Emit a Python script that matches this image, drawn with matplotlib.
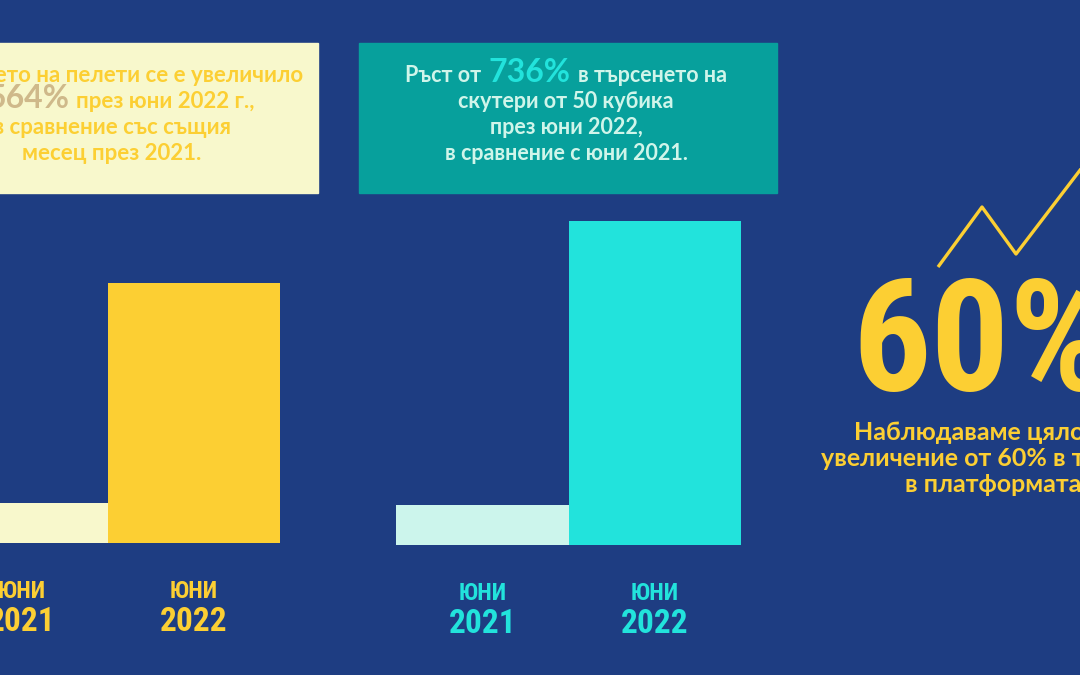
import matplotlib
matplotlib.use('Agg')
import matplotlib.pyplot as plt
from matplotlib.patches import Rectangle
from matplotlib import transforms, font_manager

W, H = 1080, 675

# --- data ---
years = ['2021', '2022']
month = 'ЮНИ'
pellets = [1.0, 6.5]     # relative search volume, June 2021 = 1
scooters = [1.0, 8.1]
pellets_growth = '564%'
scooters_growth = '736%'
total_growth = '60%'
# decorative trend zigzag (pixel coords of the original artwork)
trend_x = [938, 982, 1016, 1100]
trend_y = [267, 207, 254, 144]

# colours
BG = '#1e3d82'
YELLOW = '#fccf33'
CREAM = '#f8f8cc'
TEAL = '#07a09c'
CYAN = '#22e3dc'
MINT = '#ccf5ec'
TAN = '#cfb98a'
MINT_TXT = '#d0f5ea'

installed = {f.name for f in font_manager.fontManager.ttflist}
body = ['Lato', 'Noto Sans', 'DejaVu Sans']
narrow = [f for f in ['Roboto Condensed', 'Liberation Sans Narrow',
                      'Open Sans Condensed', 'DejaVu Sans'] if f in installed]
narrow.append('DejaVu Sans')

fig = plt.figure(figsize=(10.8, 6.75), dpi=100, facecolor=BG)

# background axes in pixel units, y pointing down
bg = fig.add_axes([0, 0, 1, 1])
bg.set_xlim(0, W)
bg.set_ylim(H, 0)
bg.axis('off')
bg.set_facecolor(BG)

# text boxes
bg.add_patch(Rectangle((-10, 43), 328, 150, color=CREAM, zorder=1))
bg.add_patch(Rectangle((359, 43), 418, 150, color=TEAL, zorder=1))

renderer = fig.canvas.get_renderer()


def mixed_line(xc, y, parts, gap):
    objs = []
    for s, c, fs in parts:
        objs.append(bg.text(0, y, s, color=c, fontsize=fs, family=body,
                            fontweight='bold', va='baseline', ha='left', zorder=3))
    widths = [o.get_window_extent(renderer).width for o in objs]
    total = sum(widths) + gap * (len(objs) - 1)
    x = xc - total / 2
    for o, w in zip(objs, widths):
        o.set_x(x)
        x += w + gap


def line(xc, y, s, c, fs):
    bg.text(xc, y, s, color=c, fontsize=fs, family=body, fontweight='bold',
            ha='center', va='baseline', zorder=3)


# left box text
lx = 112
line(lx, 82, 'Търсенето на пелети се е увеличило', YELLOW, 16)
mixed_line(lx, 108, [('с', YELLOW, 16), (pellets_growth, TAN, 23),
                     ('през юни 2022 г.,', YELLOW, 16)], 7)
line(lx, 134, 'в сравнение със същия', YELLOW, 16)
line(lx, 160, 'месец през 2021.', YELLOW, 16)

# right box text
rx = 566
mixed_line(rx, 82, [('Ръст от', MINT_TXT, 15.5), (scooters_growth, CYAN, 23),
                    ('в търсенето на', MINT_TXT, 15.5)], 7)
line(rx, 108, 'скутери от 50 кубика', MINT_TXT, 15.5)
line(rx, 134, 'през юни 2022,', MINT_TXT, 15.5)
line(rx, 160, 'в сравнение с юни 2021.', MINT_TXT, 15.5)

# trend zigzag and 60%
bg.plot(trend_x, trend_y, color=YELLOW, lw=2.4, solid_capstyle='butt', zorder=2)
bg.text(852, 390, total_growth, color=YELLOW, fontsize=112, family=narrow,
        fontweight='bold', ha='left', va='baseline', zorder=3)
tx = 996
line(tx, 440, 'Наблюдаваме цялостно', YELLOW, 18)
line(tx, 466, 'увеличение от 60% в трафика', YELLOW, 18)
line(tx, 492, 'в платформата.', YELLOW, 18)


# bar charts: 40 px per unit
def bar_panel(x0, x1, bottom, values, colors, label_color):
    ax = fig.add_axes([x0 / W, 1 - bottom / H, (x1 - x0) / W, 400 / H])
    ax.bar(range(len(values)), values, width=1.0, color=colors, zorder=2)
    ax.set_xlim(-0.5, len(values) - 0.5)
    ax.set_ylim(0, 10)
    ax.axis('off')
    trans = transforms.blended_transform_factory(ax.transData, ax.transAxes)
    for i, yr in enumerate(years):
        ax.text(i, -48 / 400, month, transform=trans, color=label_color,
                fontsize=17, family=narrow, fontweight='bold',
                ha='center', va='center')
        ax.text(i, -79 / 400, yr, transform=trans, color=label_color,
                fontsize=24, family=narrow, fontweight='bold',
                ha='center', va='center')
    return ax


bar_panel(-64, 280, 543, pellets, [CREAM, YELLOW], YELLOW)
bar_panel(396, 741, 545, scooters, [MINT, CYAN], CYAN)

fig.savefig('out.png', dpi=100, facecolor=BG)
